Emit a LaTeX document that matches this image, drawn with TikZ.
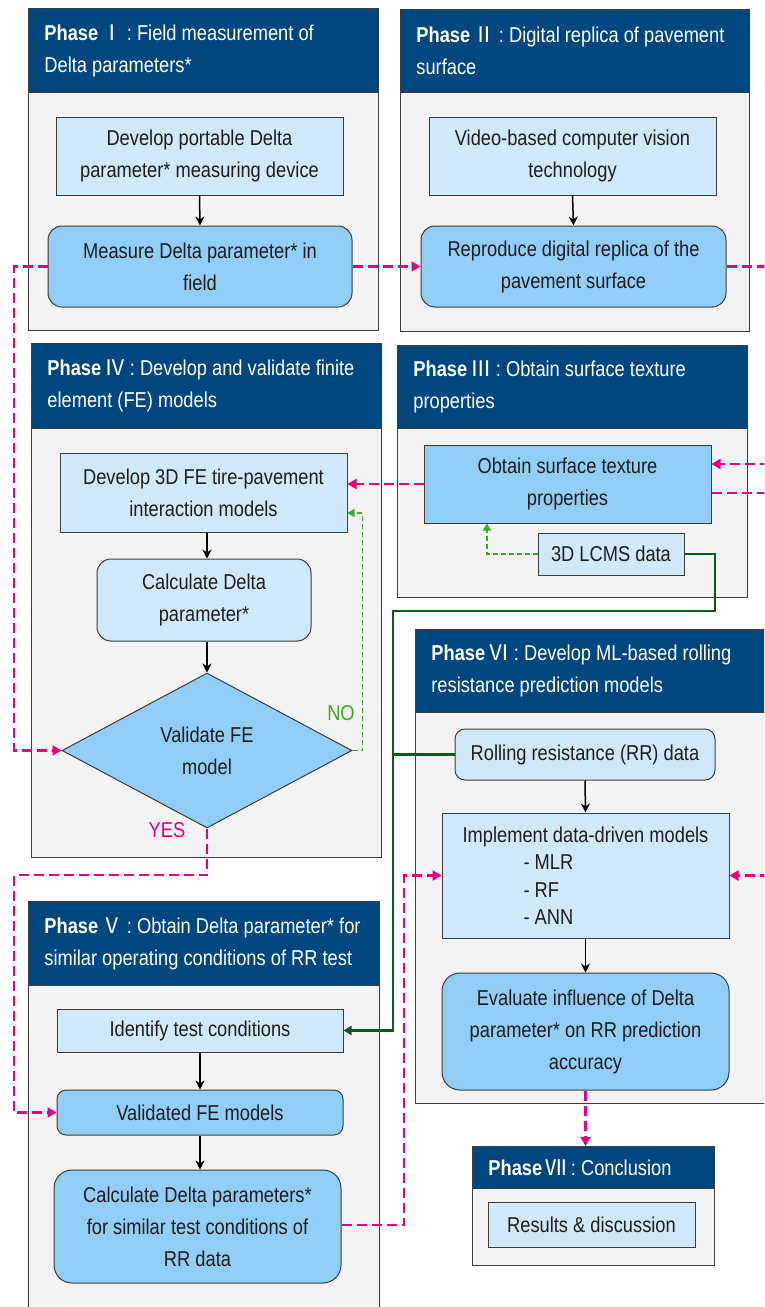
\documentclass[tikz,border=0pt]{standalone}
\usepackage{fontspec}
\setmainfont{Liberation Sans}[FakeStretch=0.85]
\newfontfamily\cjk{Noto Sans CJK KR}
\usetikzlibrary{arrows.meta,shapes.geometric}
\definecolor{navy}{RGB}{0,70,127}
\definecolor{pbg}{RGB}{243,243,243}
\definecolor{lblue}{RGB}{208,233,250}
\definecolor{mblue}{RGB}{145,205,245}
\definecolor{pinkc}{RGB}{230,0,126}
\definecolor{lgreen}{RGB}{60,170,30}
\definecolor{dgreen}{RGB}{10,90,30}
\definecolor{bord}{RGB}{60,60,60}
\definecolor{txt}{RGB}{30,30,30}
\newcommand{\ph}[1]{{\bfseries Phase}\,{\cjk #1}\,:\ }
\tikzset{
  hdr/.style={anchor=north west, fill=navy, draw=bord, line width=0.8pt, inner xsep=16pt, inner ysep=0pt,
    text=white, align=flush left, font=\fontsize{21.5}{32}\selectfont},
  body/.style={anchor=north west, fill=pbg, draw=bord, line width=1pt, inner sep=0pt},
  lbox/.style={fill=lblue, draw=bord, line width=1pt, inner sep=0pt, align=center, text=txt,
    font=\fontsize{21.5}{32}\selectfont},
  mbox/.style={lbox, fill=mblue},
  rnd/.style={rounded corners=14pt},
  dia/.style={shape=diamond, fill=mblue, draw=bord, line width=1pt, inner sep=0pt, align=center, text=txt,
    font=\fontsize{21.5}{32}\selectfont},
  blk/.style={draw=black, line width=1.5pt, -{Stealth[length=9pt,width=9pt]}},
  pk/.style={draw=pinkc, line width=2.8pt, dash pattern=on 10pt off 5pt},
  pka/.style={pk, -{Triangle[length=9pt,width=10pt]}},
  gd/.style={draw=lgreen, line width=1.8pt, dash pattern=on 5pt off 3pt},
  gda/.style={gd, -{Triangle[length=7pt,width=8pt]}},
  dg/.style={draw=dgreen, line width=2.5pt},
  dga/.style={dg, -{Triangle[length=8pt,width=9pt]}},
  lbl/.style={inner sep=0pt, font=\fontsize{21.5}{32}\selectfont}
}
\begin{document}
\begin{tikzpicture}[x=1pt,y=-1pt]
\useasboundingbox (0,0) rectangle (764,1307);
\clip (0,0) rectangle (764,1307);
\fill[white] (0,0) rectangle (764,1307);

% Phase frames
\node[body, minimum width=350pt, minimum height=238pt] (p1) at (28,92) {};
\node[hdr, minimum width=350pt, minimum height=84pt, text width=318pt] (h1) at (28,8) {\ph{Ⅰ}Field measurement of\\Delta parameters*};

\node[body, minimum width=349pt, minimum height=239pt] (p2) at (400,92) {};
\node[hdr, minimum width=349pt, minimum height=83pt, text width=317pt] (h2) at (400,9) {\ph{Ⅱ}Digital replica of pavement\\surface};

\node[body, minimum width=350pt, minimum height=169pt] (p3) at (397,428) {};
\node[hdr, minimum width=350pt, minimum height=83pt, text width=318pt] (h3) at (397,345) {\ph{Ⅲ}Obtain surface texture\\properties};

\node[body, minimum width=350pt, minimum height=429pt] (p4) at (31,428) {};
\node[hdr, minimum width=350pt, minimum height=85pt, text width=318pt] (h4) at (31,343) {\ph{Ⅳ}Develop and validate finite\\element (FE) models};

\node[body, minimum width=351pt, minimum height=340pt] (p5) at (28,985) {};
\node[hdr, minimum width=351pt, minimum height=84pt, text width=319pt] (h5) at (28,901) {\ph{Ⅴ}Obtain Delta parameter* for\\similar operating conditions of RR test};

\node[body, minimum width=370pt, minimum height=391pt] (p6) at (415,712) {};
\node[hdr, minimum width=370pt, minimum height=83pt, text width=338pt] (h6) at (415,629) {\ph{Ⅵ}Develop ML-based rolling\\resistance prediction models};

\node[body, minimum width=242pt, minimum height=77pt] (p7) at (472,1188) {};
\node[hdr, minimum width=242pt, minimum height=42pt, text width=210pt] (h7) at (472,1146) {\ph{Ⅶ}Conclusion};

% Boxes
\node[lbox, minimum width=287pt, minimum height=78pt] (b1) at (199.5,156) {Develop portable Delta\\parameter* measuring device};
\node[mbox, rnd, minimum width=304pt, minimum height=81pt] (b2) at (200,266.5) {Measure Delta parameter* in\\field};
\node[lbox, minimum width=287pt, minimum height=78pt] (b3) at (572.5,156) {Video-based computer vision\\technology};
\node[mbox, rnd, minimum width=305pt, minimum height=81pt] (b4) at (573.5,266.5) {Reproduce digital replica of the\\pavement surface};

\node[lbox, minimum width=287pt, minimum height=79pt] (b5) at (203.5,492.5) {Develop 3D FE tire-pavement\\interaction models};
\node[lbox, rnd, minimum width=214pt, minimum height=82pt] (b6) at (204,600) {Calculate Delta\\parameter*};
\node[dia, minimum width=290pt, minimum height=155pt] (d) at (207,750.5) {Validate FE\\model};

\node[mbox, minimum width=287pt, minimum height=78pt] (b7) at (567.5,484) {Obtain surface texture\\properties};
\node[lbox, minimum width=146pt, minimum height=42pt] (b8) at (611,554) {3D LCMS data};

\node[lbox, rounded corners=10pt, minimum width=260pt, minimum height=51pt] (b9) at (585,754.5) {Rolling resistance (RR) data};
\node[lbox, minimum width=287pt, minimum height=125pt, font=\fontsize{21.5}{27.5}\selectfont] (b10) at (585.5,875.5) {Implement data-driven models\\\makebox[244pt][l]{\hspace*{60pt}- MLR}\\\makebox[244pt][l]{\hspace*{60pt}- RF}\\\makebox[244pt][l]{\hspace*{60pt}- ANN}};
\node[mbox, rounded corners=18pt, minimum width=287pt, minimum height=117pt] (b11) at (585.5,1031.5) {Evaluate influence of Delta\\parameter* on RR prediction\\accuracy};

\node[lbox, minimum width=207pt, minimum height=45pt] (b12) at (591.5,1224.5) {Results \& discussion};

\node[lbox, minimum width=286pt, minimum height=43pt] (b13) at (200,1030.5) {Identify test conditions};
\node[mbox, rounded corners=9pt, minimum width=286pt, minimum height=45pt] (b14) at (200,1112.5) {Validated FE models};
\node[mbox, rounded corners=18pt, minimum width=287pt, minimum height=113pt] (b15) at (197.5,1226.5) {Calculate Delta parameters*\\for similar test conditions of\\RR data};

% labels
\node[lbl, text=lgreen] (no) at (341,713) {NO};
\node[lbl, text=pinkc] (yes) at (167,830) {YES};

% black arrows
\draw[blk] (b1.south) -- (b2.north);
\draw[blk] (b3.south) -- (b4.north);
\draw[blk] (b5.south -| d.north) -- (b6.north -| d.north);
\draw[blk] (b6.south -| d.north) -- (d.north);
\draw[blk] (b9.south) -- (b10.north);
\draw[blk] (b10.south) -- (b11.north);
\draw[blk] (b13.south) -- (b14.north);
\draw[blk] (b14.south) -- (b14.south |- b15.north);

% edge coordinates
\coordinate (e1) at (770,266.5);
\coordinate (e2) at (770,464);
\coordinate (e3) at (770,493);
\coordinate (e4) at (770,875.5);
\coordinate (l1) at (14,266.5);
\coordinate (l2) at (14,875);
\coordinate (r1) at (404,1225);
\coordinate (g1) at (715,611);
\coordinate (g2) at (393,611);

% pink connectors
\draw[pka] (b2.east) -- (b4.west);
\draw[pk] (b4.east) -- (e1);
\draw[pka] (b2.west) -- (l1) |- (d.west);
\draw[pka] (b7.west) -- (b5.east |- b7.west);
\draw[pka] (e2) -- (b7.east |- e2);
\draw[pk] (b7.east |- e3) -- (e3);
\draw[pka] (d.south) |- (l2) |- (b14.west);
\draw[pka] (b15.east |- r1) -- (r1) |- (b10.west);
\draw[pka] (e4) -- (b10.east);
\draw[pka] (b11.south) -- (b11.south |- h7.north);

% green dashed
\draw[gda] (d.east) -- ++(10,0) |- ([yshift=-20.5pt]b5.east);
\draw[gda] (b8.west) -| ([xshift=-80.5pt]b7.south);

% dark green
\draw[dga] (b8.east) -| (g1) -- (g2) |- (b13.east);
\draw[dg] (b9.west) -- (b9.west -| g2);
\end{tikzpicture}
\end{document}
